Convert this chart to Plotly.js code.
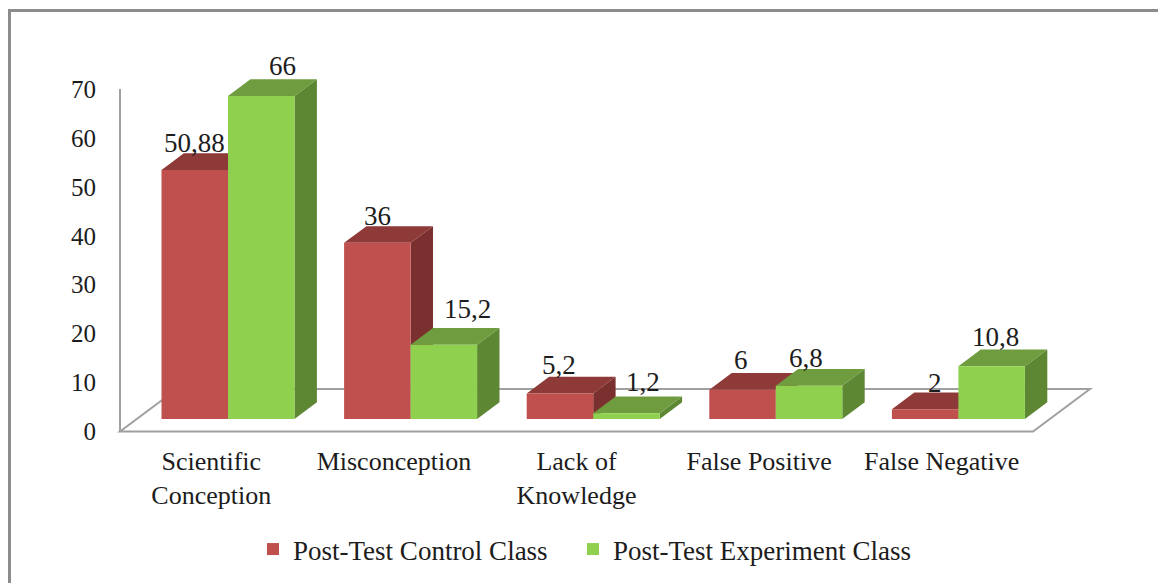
<!DOCTYPE html>
<html>
<head>
<meta charset="utf-8">
<script src="https://cdn.plot.ly/plotly-3.0.1.min.js"></script>
<style>html,body{margin:0;padding:0;background:#fff}#chart{width:1158px;height:583px}</style>
</head>
<body>
<div id="chart"></div>
<script>
// ---- data ----
var categories = ["Scientific<br>Conception", "Misconception", "Lack of<br>Knowledge", "False Positive", "False Negative"];
var controlValues = [50.88, 36, 5.2, 6, 2];
var experimentValues = [66, 15.2, 1.2, 6.8, 10.8];
var seriesNames = ["Post-Test Control Class", "Post-Test Experiment Class"];
var valueTicks = [0, 10, 20, 30, 40, 50, 60, 70];

// ---- label nudges (pixels) ----
var controlLabelShift = [[0, 27], [0, 27], [-1, 29], [-2, 30], [10, 26]];
var experimentLabelShift = [[21, 30], [24, 36], [17, 31], [-3, 28], [4, 29]];

// ---- geometry ----
var W = 1158, H = 583, L = 100, R = 1100, T = 60, B = 445;
var AXIS_X = 120, AXIS_Y0 = 431.5;
var SLOT = 182.6, UNIT = 4.893;      // px per category slot / per value unit
var SHIFT_X = 16.7, SHIFT_Y = 12.5;  // offset of the bars' front plane from the floor's front edge
var DEPTH_X = 22.4, DEPTH_Y = 16.7;  // bar depth
var FLOOR_X = 57, FLOOR_Y = 42.5;    // floor depth
var BAR_W = 66.5;

var xr = [-0.5 + (L - AXIS_X) / SLOT, -0.5 + (R - AXIS_X) / SLOT];
var yr = [(AXIS_Y0 - B) / UNIT, (AXIS_Y0 - T) / UNIT];
var sx = SHIFT_X / SLOT, sy = SHIFT_Y / UNIT;
var dx = DEPTH_X / SLOT, dy = DEPTH_Y / UNIT;
var bw = BAR_W / SLOT;
var slots = categories.map(function (_, i) { return i; });

var RED = "#C0504D", RED_TOP = "#8E3A38", RED_SIDE = "#7A302E";
var GRN = "#8FD14F", GRN_TOP = "#6F9C3E", GRN_SIDE = "#5E8733";
var LINE = "#A0A0A0", TXT = "#1c1c1c", FONT = '"Liberation Serif","Times New Roman",serif';

// depth faces of one series, in the primary axes
function faces(values, seriesIndex, kind, color) {
  var xs = [], ys = [];
  values.forEach(function (v, i) {
    var x0 = i - bw + seriesIndex * bw + sx, x1 = x0 + bw;
    var top = v + sy, base = sy;
    if (kind === "side") {
      xs.push(x1, x1 + dx, x1 + dx, x1, x1, null);
      ys.push(base, base + dy, top + dy, top, base, null);
    } else {
      xs.push(x0, x1, x1 + dx, x0 + dx, x0, null);
      ys.push(top, top, top + dy, top + dy, top, null);
    }
  });
  return {type: "scatter", mode: "lines", x: xs, y: ys, xaxis: "x", yaxis: "y",
          fill: "toself", fillcolor: color, line: {width: 0, color: color},
          showlegend: false, hoverinfo: "skip"};
}

function front(values, name, color, legendId) {
  return {type: "bar", x: slots, y: values, name: name, xaxis: "x2", yaxis: "y2", legend: legendId,
          marker: {color: color, line: {width: 0}}, hoverinfo: "y+name"};
}

var traces = [
  faces(controlValues, 0, "side", RED_SIDE),
  faces(controlValues, 0, "top", RED_TOP),
  faces(experimentValues, 1, "side", GRN_SIDE),
  faces(experimentValues, 1, "top", GRN_TOP),
  front(controlValues, seriesNames[0], RED, "legend"),
  front(experimentValues, seriesNames[1], GRN, "legend2")
];

function labels(values, seriesIndex, shifts) {
  return values.map(function (v, i) {
    return {xref: "x2", yref: "y2", x: i - bw / 2 + seriesIndex * bw, y: v,
            text: String(v).replace(".", ","), showarrow: false,
            xanchor: "center", yanchor: "middle",
            xshift: shifts[i][0], yshift: shifts[i][1],
            font: {family: FONT, size: 27, color: TXT}};
  });
}

function px(x) { return (x - L) / (R - L); }
function py(y) { return (B - y) / (B - T); }

var fx = FLOOR_X / SLOT, fy = FLOOR_Y / UNIT, xEnd = categories.length - 0.5;
var shapes = [
  {type: "path", xref: "x", yref: "y", layer: "below",
   path: "M-0.5,0 L" + xEnd + ",0 L" + (xEnd + fx) + "," + fy + " L" + (-0.5 + fx) + "," + fy + " Z",
   line: {color: LINE, width: 2}, fillcolor: "rgba(0,0,0,0)"},
  {type: "line", xref: "x", yref: "y", layer: "below", x0: -0.5, x1: -0.5, y0: 0, y1: 70,
   line: {color: LINE, width: 2}},
  {type: "path", xref: "paper", yref: "paper", layer: "below",
   path: "M" + px(9.5) + "," + py(583) + " L" + px(9.5) + "," + py(10.5) + " L" + px(1158) + "," + py(10.5),
   line: {color: "#8C8C8C", width: 3}, fillcolor: "rgba(0,0,0,0)"}
];

function legendAt(xPx) {
  return {orientation: "h", x: px(xPx), xanchor: "left", y: py(525), yanchor: "top",
          font: {family: FONT, size: 27, color: TXT}, bgcolor: "rgba(0,0,0,0)",
          itemwidth: 30};
}

var layout = {
  width: W, height: H,
  margin: {l: L, r: W - R, t: T, b: H - B, pad: 0, autoexpand: false},
  paper_bgcolor: "#fff", plot_bgcolor: "rgba(0,0,0,0)",
  font: {family: FONT, size: 25, color: TXT},
  barmode: "group", bargap: 1 - 2 * bw, bargroupgap: 0,
  showlegend: true,
  legend: legendAt(253),
  legend2: legendAt(573),
  xaxis: {domain: [0, 1], range: xr, tickmode: "array", tickvals: slots, ticktext: categories,
          showgrid: false, zeroline: false, showline: false, ticks: "", automargin: false,
          tickangle: 0, fixedrange: true, ticklabelstandoff: -2,
          tickfont: {family: FONT, size: 26, color: TXT}},
  yaxis: {domain: [0, 1], range: yr, tickmode: "array", tickvals: valueTicks,
          showgrid: false, zeroline: false, showline: false, ticks: "", ticklabelstandoff: 3,
          automargin: false, fixedrange: true},
  xaxis2: {overlaying: "x", anchor: "y2", range: [xr[0] - sx, xr[1] - sx], visible: false, fixedrange: true},
  yaxis2: {overlaying: "y", anchor: "x2", range: [yr[0] - sy, yr[1] - sy], visible: false, fixedrange: true},
  shapes: shapes,
  annotations: labels(controlValues, 0, controlLabelShift).concat(labels(experimentValues, 1, experimentLabelShift))
};

Plotly.newPlot("chart", traces, layout, {displayModeBar: false, responsive: false});
</script>
</body>
</html>
